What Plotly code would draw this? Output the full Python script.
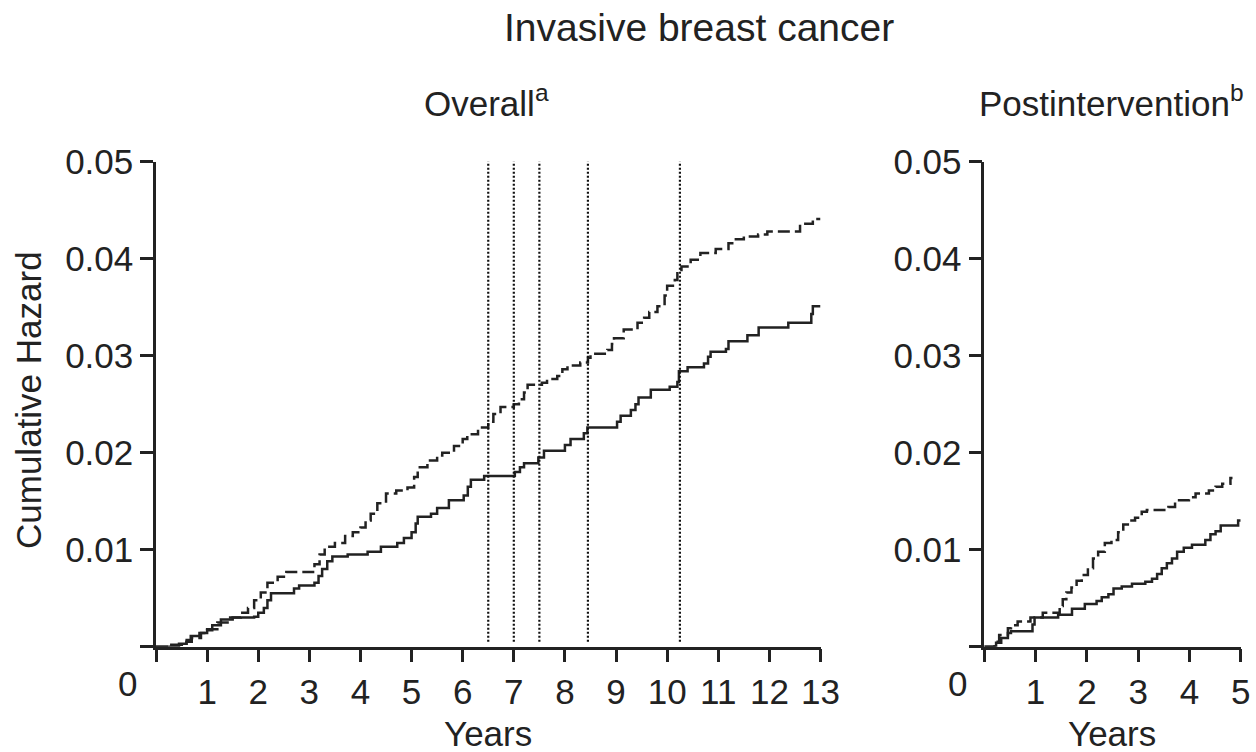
import plotly.graph_objects as go

W, H = 1256, 752
FONT = "Liberation Sans"
INK = "#222222"

# Overall follow-up: cumulative hazard step functions (years, value after step)
overall_placebo_t = [0, 0.3, 0.55, 0.7, 0.88, 1.0, 1.2, 1.4, 1.66, 1.8, 1.92, 2.05, 2.18, 2.38, 2.55,
                     3.1, 3.2, 3.3, 3.5, 3.7, 3.85, 4.0, 4.1, 4.2, 4.33, 4.5, 4.7, 4.92, 5.05, 5.12,
                     5.31, 5.5, 5.6, 5.83, 6.0, 6.09, 6.3, 6.5, 6.6, 6.74, 7.0, 7.1, 7.2, 7.27, 7.55,
                     7.65, 7.85, 7.95, 8.05, 8.3, 8.45, 8.5, 8.83, 8.92, 8.96, 9.15, 9.42, 9.55, 9.65,
                     9.81, 9.95, 10.0, 10.15, 10.2, 10.28, 10.46, 10.65, 10.95, 11.2, 11.3, 11.5, 11.78,
                     11.96, 12.6, 12.85, 13.0]
overall_placebo_h = [0, 0.0002, 0.0005, 0.0009, 0.0014, 0.0018, 0.0025, 0.0030, 0.0035, 0.0040, 0.0048,
                     0.0056, 0.0066, 0.0072, 0.0077, 0.0085, 0.0095, 0.0103, 0.0107, 0.0114, 0.0118,
                     0.0123, 0.0130, 0.0137, 0.0148, 0.0158, 0.0161, 0.0164, 0.0175, 0.0185, 0.0192,
                     0.0197, 0.0200, 0.0207, 0.0214, 0.0219, 0.0226, 0.0232, 0.0240, 0.0247, 0.0250,
                     0.0255, 0.0262, 0.0270, 0.0272, 0.0276, 0.0279, 0.0286, 0.0290, 0.0293, 0.0298,
                     0.0302, 0.0306, 0.0312, 0.0318, 0.0327, 0.0334, 0.0339, 0.0345, 0.0351, 0.0362,
                     0.0372, 0.0378, 0.0385, 0.0392, 0.0399, 0.0406, 0.0410, 0.0416, 0.0420, 0.0423,
                     0.0425, 0.0428, 0.0436, 0.0441, 0.0441]

overall_cee_t = [0, 0.3, 0.45, 0.6, 0.68, 0.85, 1.0, 1.1, 1.27, 1.5, 1.92, 2.0, 2.11, 2.18, 2.25, 2.7,
                 2.8, 3.1, 3.18, 3.25, 3.35, 3.45, 3.75, 4.14, 4.4, 4.72, 4.85, 5.0, 5.08, 5.12, 5.38,
                 5.5, 5.73, 6.02, 6.1, 6.16, 6.42, 7.02, 7.12, 7.2, 7.48, 7.59, 8.0, 8.11, 8.37, 8.44,
                 9.02, 9.09, 9.29, 9.38, 9.44, 9.68, 10.05, 10.2, 10.23, 10.4, 10.72, 10.8, 10.85,
                 11.15, 11.2, 11.57, 11.79, 12.37, 12.82, 12.85, 13.0]
overall_cee_h = [0, 0.0001, 0.0003, 0.0007, 0.0011, 0.0014, 0.0017, 0.0022, 0.0028, 0.0030, 0.0031,
                 0.0035, 0.0040, 0.0048, 0.0055, 0.0060, 0.0063, 0.0066, 0.0073, 0.0080, 0.0088,
                 0.0093, 0.0095, 0.0098, 0.0103, 0.0107, 0.0112, 0.0118, 0.0127, 0.0134, 0.0137,
                 0.0143, 0.0151, 0.0156, 0.0165, 0.0172, 0.0176, 0.0180, 0.0185, 0.0189, 0.0195,
                 0.0202, 0.0208, 0.0214, 0.0220, 0.0226, 0.0232, 0.0238, 0.0244, 0.0250, 0.0257,
                 0.0265, 0.0268, 0.0273, 0.0284, 0.0288, 0.0292, 0.0299, 0.0304, 0.0307, 0.0315,
                 0.0321, 0.0329, 0.0334, 0.0343, 0.0351, 0.0351]

# Postintervention follow-up
post_placebo_t = [0, 0.2, 0.29, 0.46, 0.52, 0.65, 0.9, 1.14, 1.47, 1.53, 1.6, 1.7, 1.8, 1.9, 2.02,
                  2.12, 2.22, 2.35, 2.48, 2.61, 2.71, 2.84, 2.94, 3.07, 3.17, 3.59, 3.72, 3.99,
                  4.12, 4.38, 4.51, 4.64, 4.8, 4.84]
post_placebo_h = [0, 0.0005, 0.0012, 0.0019, 0.0022, 0.0026, 0.0030, 0.0035, 0.0042, 0.0049, 0.0056,
                  0.0061, 0.0068, 0.0074, 0.0081, 0.0091, 0.0098, 0.0107, 0.0110, 0.0118, 0.0126,
                  0.0130, 0.0133, 0.0139, 0.0141, 0.0144, 0.0151, 0.0154, 0.0158, 0.0161, 0.0165,
                  0.0168, 0.0174, 0.0174]

post_cee_t = [0, 0.23, 0.33, 0.46, 0.52, 0.94, 0.98, 1.44, 1.71, 1.96, 2.19, 2.29, 2.42, 2.52, 2.68,
              2.88, 3.14, 3.27, 3.37, 3.46, 3.56, 3.66, 3.76, 3.89, 4.05, 4.31, 4.41, 4.51, 4.61,
              4.95, 5.0]
post_cee_h = [0, 0.0004, 0.0009, 0.0014, 0.0016, 0.0023, 0.0030, 0.0033, 0.0039, 0.0044, 0.0047,
              0.0051, 0.0054, 0.0060, 0.0062, 0.0065, 0.0067, 0.0070, 0.0075, 0.0081, 0.0086,
              0.0091, 0.0098, 0.0102, 0.0105, 0.0110, 0.0116, 0.0119, 0.0125, 0.0130, 0.0130]

# Reference years marked with vertical dotted lines on the overall panel
marker_years = [6.5, 7.0, 7.5, 8.45, 10.25]

x1_ticks = list(range(1, 14))
x2_ticks = list(range(1, 6))
y_ticks = [0.01, 0.02, 0.03, 0.04, 0.05]
y_ticktext = ["0.01", "0.02", "0.03", "0.04", "0.05"]


def px_x(p):
    return p / W


def px_y(p):
    return 1 - p / H


fig = go.Figure()

dash_long = "12px,5px"

fig.add_trace(go.Scatter(x=overall_placebo_t, y=overall_placebo_h, mode="lines", line_shape="hv",
                         line=dict(color=INK, width=2.5, dash=dash_long), name="Placebo",
                         xaxis="x", yaxis="y"))
fig.add_trace(go.Scatter(x=overall_cee_t, y=overall_cee_h, mode="lines", line_shape="hv",
                         line=dict(color=INK, width=2.5), name="CEE", xaxis="x", yaxis="y"))

vx, vy = [], []
for yr in marker_years:
    vx += [yr, yr, None]
    vy += [0.0005, 0.0503, None]
fig.add_trace(go.Scatter(x=vx, y=vy, mode="lines", line=dict(color="#111111", width=2.2, dash="2px,2px"),
                         name="Markers", xaxis="x", yaxis="y", hoverinfo="skip"))

fig.add_trace(go.Scatter(x=post_placebo_t, y=post_placebo_h, mode="lines", line_shape="hv",
                         line=dict(color=INK, width=2.5, dash=dash_long), name="Placebo",
                         xaxis="x2", yaxis="y2"))
fig.add_trace(go.Scatter(x=post_cee_t, y=post_cee_h, mode="lines", line_shape="hv",
                         line=dict(color=INK, width=2.5), name="CEE", xaxis="x2", yaxis="y2"))

# The origin tick on each axis is drawn as an unlabelled minor tick
origin_tick = dict(tickvals=[0], ticks="outside", ticklen=13, tickwidth=2.5, tickcolor=INK, showgrid=False)

axis_common = dict(showline=True, linecolor=INK, linewidth=2.5, ticks="outside", ticklen=13,
                   tickwidth=2.5, tickcolor=INK, showgrid=False, zeroline=False, automargin=False,
                   tickfont=dict(family=FONT, size=35, color=INK), minor=origin_tick)

y_bottom, y_top = px_y(646.7), px_y(161.7)

fig.update_layout(
    template="none",
    width=W, height=H, autosize=False,
    margin=dict(l=0, r=0, t=0, b=0, pad=0),
    paper_bgcolor="white", plot_bgcolor="white",
    showlegend=False,
    xaxis=dict(domain=[px_x(156), px_x(820.5)], range=[0, 13], tickvals=x1_ticks,
               ticktext=[str(v) for v in x1_ticks], anchor="y", **axis_common),
    yaxis=dict(domain=[y_bottom, y_top], range=[0, 0.05], tickvals=y_ticks, ticktext=y_ticktext,
               anchor="x", **axis_common),
    xaxis2=dict(domain=[px_x(984.3), px_x(1240.7)], range=[0, 5], tickvals=x2_ticks,
                ticktext=[str(v) for v in x2_ticks], anchor="y2", **axis_common),
    yaxis2=dict(domain=[y_bottom, y_top], range=[0, 0.05], tickvals=y_ticks, ticktext=y_ticktext,
                anchor="x2", **axis_common),
)

txt = dict(family=FONT, color=INK)
annotations = [
    dict(text="Invasive breast cancer", x=px_x(699), y=px_y(27), font=dict(size=39, **txt)),
    dict(text="Overall<sup>a</sup>", x=px_x(486), y=px_y(101), font=dict(size=35, **txt)),
    dict(text="Postintervention<sup>b</sup>", x=px_x(1111), y=px_y(101), font=dict(size=35, **txt)),
    dict(text="Cumulative Hazard", x=px_x(28), y=px_y(400), textangle=-90, font=dict(size=35, **txt)),
    dict(text="0", x=px_x(127.5), y=px_y(683.5), font=dict(size=35, **txt)),
    dict(text="0", x=px_x(957), y=px_y(683.5), font=dict(size=35, **txt)),
    dict(text="Years", x=px_x(488), y=px_y(733), font=dict(size=35, **txt)),
    dict(text="Years", x=px_x(1112), y=px_y(733), font=dict(size=35, **txt)),
]
for a in annotations:
    a.update(xref="paper", yref="paper", xanchor="center", yanchor="middle", showarrow=False)
fig.update_layout(annotations=annotations)

fig.write_html("out.html")
